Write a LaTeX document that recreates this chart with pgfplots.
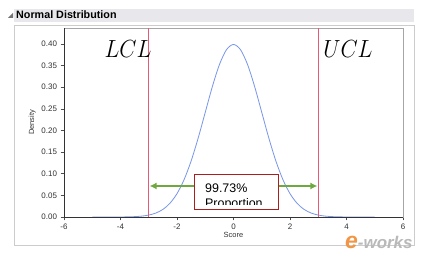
\documentclass[border=0pt]{standalone}
\usepackage{pgfplots}
\pgfplotsset{compat=1.18}
\usepackage{fontspec}
\setmainfont{Liberation Sans}
\usetikzlibrary{arrows.meta}
\definecolor{curveblue}{RGB}{120,150,232}
\definecolor{limred}{RGB}{228,90,120}
\definecolor{arrgreen}{RGB}{112,168,64}
\definecolor{boxred}{RGB}{170,30,30}
\definecolor{barbg}{RGB}{232,232,236}
\definecolor{ewo}{RGB}{240,150,70}
\begin{document}
\begin{tikzpicture}[x=1bp,y=1bp]
\path[use as bounding box,fill=white] (0,0) rectangle (428,256);
% panel decorations
\fill[barbg] (14,234) rectangle (414,247);
\draw[gray!40] (14,231) rectangle (414,11);
\fill[black!55] (8,238) -- (13,243) -- (13,238) -- cycle;
\node[anchor=west,inner sep=0pt,font=\bfseries\fontsize{10.8}{12}\selectfont] at (16,241) {Normal Distribution};
\begin{axis}[
  at={(64bp,39bp)}, anchor=south west,
  scale only axis, width=339bp, height=189bp,
  xmin=-6, xmax=6, ymin=0, ymax=0.437,
  xtick={-6,-4,...,6}, ytick={0,0.05,...,0.4},
  yticklabel style={/pgf/number format/.cd,fixed,fixed zerofill,precision=2},
  /pgf/number format/assume math mode=true,
  tick label style={font=\fontsize{8}{9}\selectfont, text=black!80},
  tick align=outside, xtick pos=left, ytick pos=left,
  major tick length=3.5bp,
  tick style={black!70, line width=0.6pt},
  axis line style={gray!70, line width=0.8pt},
  xlabel={Score}, ylabel={Density},
  label style={font=\fontsize{7.5}{8}\selectfont, text=black!80},
  xlabel style={yshift=4bp},
  ylabel style={yshift=-1bp},
  clip=false,
]
\addplot[curveblue, line width=0.8pt, smooth] coordinates {
(-5,0.0000015) (-4.5,0.000016) (-4,0.00013) (-3.75,0.00035) (-3.5,0.00087) (-3.25,0.00203)
(-3,0.00443) (-2.75,0.00909) (-2.5,0.01753) (-2.25,0.03174) (-2,0.05399)
(-1.75,0.08628) (-1.5,0.12952) (-1.25,0.18265) (-1,0.24197) (-0.75,0.30114)
(-0.5,0.35207) (-0.25,0.38667) (0,0.39894) (0.25,0.38667) (0.5,0.35207)
(0.75,0.30114) (1,0.24197) (1.25,0.18265) (1.5,0.12952) (1.75,0.08628)
(2,0.05399) (2.25,0.03174) (2.5,0.01753) (2.75,0.00909) (3,0.00443)
(3.25,0.00203) (3.5,0.00087) (3.75,0.00035) (4,0.00013) (4.5,0.000016) (5,0.0000015)};
\draw[black!80, line width=1pt] (rel axis cs:0,0) -- (rel axis cs:1,0);
\draw[black!80, line width=0.8pt] (rel axis cs:0,0) -- (rel axis cs:0,1);
\addplot[limred, line width=0.7pt] coordinates {(-3,0) (-3,0.437)};
\addplot[limred, line width=0.7pt] coordinates {(3,0) (3,0.437)};
\addplot[arrgreen, line width=1.6pt, {Latex[length=7bp,width=7bp]}-{Latex[length=7bp,width=7bp]}] coordinates {(-2.97,0.0717) (2.97,0.0717)};
\draw[boxred, fill=white, line width=0.8pt] (axis cs:-1.40,0.0185) rectangle (axis cs:1.575,0.0994);
\begin{scope}
\clip (axis cs:-1.38,0.0295) rectangle (axis cs:1.55,0.098);
\node[anchor=base west, inner sep=0pt, font=\fontsize{12.5}{14}\selectfont] at (axis cs:-1.01,0.0555) {99.73\%};
\node[anchor=base west, inner sep=0pt, font=\fontsize{12.5}{14}\selectfont] at (axis cs:-1.01,0.0231) {Proportion};
\end{scope}
\end{axis}
\node[font=\fontsize{29}{30}\selectfont, xscale=0.9] at (128,207) {$LCL$};
\node[font=\fontsize{29}{30}\selectfont, xscale=0.9] at (348,207) {$UCL$};
\node[anchor=west, inner sep=0pt, font=\bfseries\itshape\fontsize{17}{17}\selectfont, text=gray!55] at (345,14) {{\color{ewo}\fontsize{23}{23}\selectfont e}-works};
\end{tikzpicture}
\end{document}
